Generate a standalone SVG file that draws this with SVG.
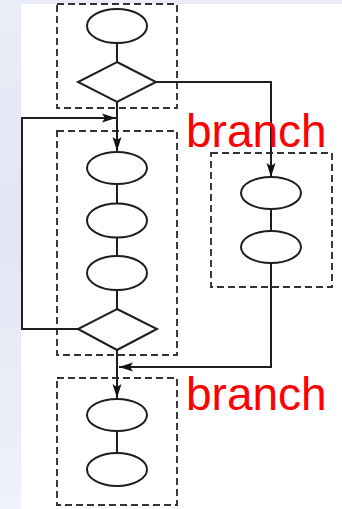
<svg xmlns="http://www.w3.org/2000/svg" width="342" height="509" viewBox="0 0 342 509">
  <style>
    .grp { fill: none; stroke: #333333; stroke-width: 1.9; stroke-dasharray: 7 4; }
    .node { fill: #ffffff; stroke: #1e1e1e; stroke-width: 2; }
    .edge { fill: none; stroke: #1e1e1e; stroke-width: 2; }
    .label { font-family: "Liberation Sans", Arial, sans-serif; font-size: 46px; fill: #ff0000; }
  </style>
  <defs>
    <marker id="arrow" viewBox="0 0 14 10" refX="14" refY="5" markerWidth="14" markerHeight="10" markerUnits="userSpaceOnUse" orient="auto">
      <path d="M0,0.5 L14,5 L0,9.5 L3,5 Z" fill="#111111"/>
    </marker>
    <linearGradient id="bg" x1="0" y1="0" x2="0" y2="1">
      <stop offset="0" stop-color="#eaedf7"/>
      <stop offset="0.45" stop-color="#e2e6f4"/>
      <stop offset="1" stop-color="#f0f2f9"/>
    </linearGradient>
  </defs>

  <!-- backdrop -->
  <rect x="0" y="0" width="342" height="509" fill="url(#bg)"/>
  <rect x="21" y="4" width="321" height="505" fill="#ffffff"/>

  <!-- dashed groupings -->
  <g id="groups">
    <rect class="grp" x="57" y="4" width="120" height="104"/>
    <rect class="grp" x="57" y="131" width="120" height="224"/>
    <rect class="grp" x="211" y="153" width="121" height="134"/>
    <rect class="grp" x="57" y="378" width="120" height="127"/>
  </g>

  <!-- connectors -->
  <g id="connectors">
    <line class="edge" x1="117" y1="43" x2="117" y2="62"/>
    <line class="edge" x1="117" y1="102" x2="117" y2="151" marker-end="url(#arrow)"/>
    <polyline class="edge" points="156,82 271,82 271,177" marker-end="url(#arrow)"/>
    <polyline class="edge" points="78,329 22,329 22,118 116,118" marker-end="url(#arrow)"/>
    <line class="edge" x1="117" y1="184" x2="117" y2="203"/>
    <line class="edge" x1="117" y1="238" x2="117" y2="256"/>
    <line class="edge" x1="117" y1="290" x2="117" y2="309"/>
    <line class="edge" x1="271" y1="209" x2="271" y2="231"/>
    <polyline class="edge" points="271,263 271,367 119,367" marker-end="url(#arrow)"/>
    <line class="edge" x1="117" y1="350" x2="117" y2="398" marker-end="url(#arrow)"/>
    <line class="edge" x1="117" y1="431" x2="117" y2="453"/>
  </g>

  <!-- nodes -->
  <g id="start"><ellipse class="node" cx="117" cy="26" rx="30" ry="17"/></g>
  <g id="decision1"><polygon class="node" points="117,62 156,82 117,102 78,82"/></g>
  <g id="step1"><ellipse class="node" cx="117" cy="168" rx="30" ry="16"/></g>
  <g id="step2"><ellipse class="node" cx="117" cy="220.5" rx="30" ry="17"/></g>
  <g id="step3"><ellipse class="node" cx="117" cy="273" rx="30" ry="17"/></g>
  <g id="decision2"><polygon class="node" points="117,309 157,329 117,350 78,329"/></g>
  <g id="branch1"><ellipse class="node" cx="271" cy="193" rx="30" ry="16"/></g>
  <g id="branch2"><ellipse class="node" cx="271" cy="247" rx="30" ry="16"/></g>
  <g id="end1"><ellipse class="node" cx="117" cy="415" rx="30" ry="16"/></g>
  <g id="end2"><ellipse class="node" cx="117" cy="469.5" rx="30" ry="16.5"/></g>

  <!-- labels -->
  <text class="label" x="186" y="147">branch</text>
  <text class="label" x="186" y="410">branch</text>
</svg>
